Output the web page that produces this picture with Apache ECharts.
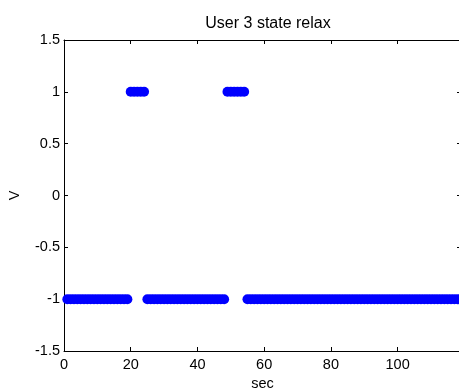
<!DOCTYPE html>
<html>
<head>
<meta charset="utf-8">
<script src="https://cdn.jsdelivr.net/npm/echarts@6/dist/echarts.min.js"></script>
<style>html,body{margin:0;padding:0;background:#fff;}#c{width:459px;height:390px;}</style>
</head>
<body>
<div id="c"></div>
<script>
var titleText = "User 3 state relax";
var xName = "sec";
var yName = "V";
var time = [1,2,3,4,5,6,7,8,9,10,11,12,13,14,15,16,17,18,19,20,
21,22,23,24,25,26,27,28,29,30,31,32,33,34,35,36,37,38,39,40,
41,42,43,44,45,46,47,48,49,50,51,52,53,54,55,56,57,58,59,60,
61,62,63,64,65,66,67,68,69,70,71,72,73,74,75,76,77,78,79,80,
81,82,83,84,85,86,87,88,89,90,91,92,93,94,95,96,97,98,99,100,
101,102,103,104,105,106,107,108,109,110,111,112,113,114,115,116,117,118];
var state = [-1,-1,-1,-1,-1,-1,-1,-1,-1,-1,-1,-1,-1,-1,-1,-1,-1,-1,-1,1,
1,1,1,1,-1,-1,-1,-1,-1,-1,-1,-1,-1,-1,-1,-1,-1,-1,-1,-1,
-1,-1,-1,-1,-1,-1,-1,-1,1,1,1,1,1,1,-1,-1,-1,-1,-1,-1,
-1,-1,-1,-1,-1,-1,-1,-1,-1,-1,-1,-1,-1,-1,-1,-1,-1,-1,-1,-1,
-1,-1,-1,-1,-1,-1,-1,-1,-1,-1,-1,-1,-1,-1,-1,-1,-1,-1,-1,-1,
-1,-1,-1,-1,-1,-1,-1,-1,-1,-1,-1,-1,-1,-1,-1,-1,-1,-1];
var xTicks = [0,20,40,60,80,100];
var yTicks = [-1.5,-1,-0.5,0,0.5,1,1.5];

var pts = time.map(function(t,i){return [t,state[i]];});
var font = "'Liberation Sans', Arial, Helvetica, sans-serif";
var lineStyle = {color:'#000', width:1};
function axisCommon(extra){
  var o = {
    axisLine:{show:true, onZero:false, lineStyle:lineStyle},
    axisTick:{show:true, inside:true, length:4, lineStyle:lineStyle},
    splitLine:{show:false},
    axisLabel:{show:false}
  };
  for (var k in extra) o[k]=extra[k];
  return o;
}
var chart = echarts.init(document.getElementById('c'), null, {renderer:'canvas'});
chart.setOption({
  animation:false,
  backgroundColor:'#fff',
  title:{text:titleText, left:263, top:11, textAlign:'center',
    textStyle:{fontFamily:font, fontSize:16, fontWeight:'normal', color:'#000'}},
  grid:{left:64, top:40, right:-2, bottom:39, containLabel:false, outerBoundsMode:'none'},
  xAxis:[
    axisCommon({type:'value', position:'bottom', min:0, max:119, interval:20,
      name:xName, nameLocation:'middle', nameGap:22,
      nameTextStyle:{fontFamily:font, fontSize:14.5, color:'#000'},
      axisLabel:{show:true, margin:6, showMaxLabel:false, fontFamily:font, fontSize:14.5, color:'#000',
        formatter:function(v){return xTicks.indexOf(v)>=0?String(v):'';}}}),
    axisCommon({type:'value', position:'top', min:0, max:119, interval:20})
  ],
  yAxis:[
    axisCommon({type:'value', position:'left', min:-1.5, max:1.5, interval:0.5,
      name:yName, nameLocation:'middle', nameGap:42,
      nameTextStyle:{fontFamily:font, fontSize:14.5, color:'#000'},
      axisLabel:{show:true, margin:4, fontFamily:font, fontSize:14.5, color:'#000',
        formatter:function(v){return yTicks.indexOf(v)>=0?String(v):'';}}}),
    axisCommon({type:'value', position:'right', min:-1.5, max:1.5, interval:0.5})
  ],
  series:[{
    type:'scatter', xAxisIndex:0, yAxisIndex:0, data:pts, clip:false,
    symbol:'circle', symbolSize:10, itemStyle:{color:'#0000ff', opacity:1, borderWidth:0}
  }]
});
</script>
</body>
</html>
